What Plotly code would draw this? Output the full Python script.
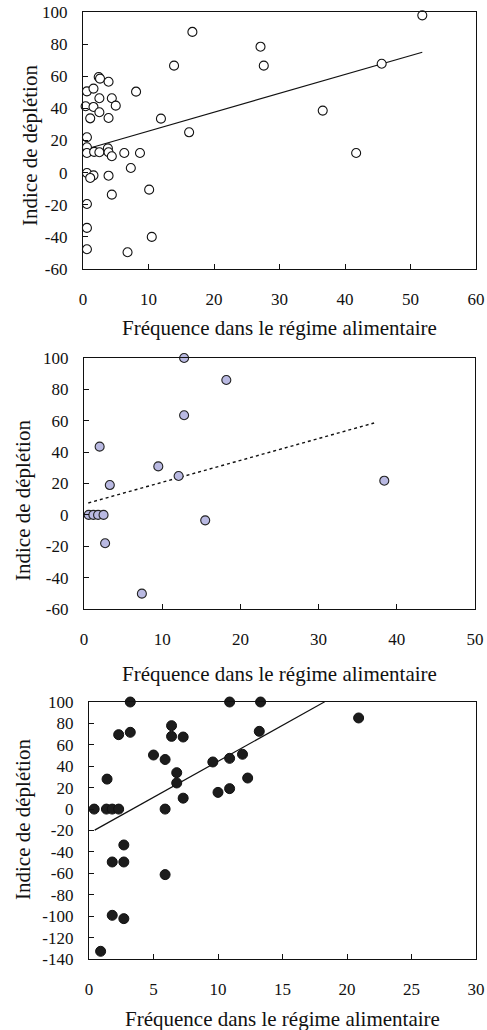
import plotly.graph_objects as go

# ---------------- data ----------------
# Panel 1 (open circles)
freq1 = [16.7, 13.9, 2.4, 2.6, 3.9, 8.1, 0.6, 1.6, 2.5, 4.4, 5.0, 0.4, 1.6, 2.5, 1.1,
         3.9, 11.9, 16.2, 0.6, 0.6, 0.6, 1.7, 2.5, 3.8, 3.9, 4.4, 6.3, 8.7, 7.3, 0.6,
         1.6, 1.1, 3.9, 4.4, 10.1, 0.6, 0.6, 10.5, 0.6, 6.8, 51.8, 27.1, 27.6, 45.6,
         36.6, 41.7]
dep1 = [87.6, 66.6, 59.5, 58.5, 56.6, 50.4, 50.6, 52.3, 46.3, 46.3, 41.7, 41.3, 40.9, 37.6, 33.8,
        34.0, 33.6, 25.1, 22.0, 15.8, 12.2, 12.9, 12.7, 15.1, 12.7, 10.2, 12.2, 12.2, 2.9, -0.2,
        -1.7, -3.3, -1.9, -13.7, -10.6, -19.5, -34.4, -40.0, -47.7, -49.6, 97.9, 78.4, 66.6, 67.8,
        38.6, 12.2]
trend1_slope, trend1_intercept, trend1_xspan = 1.175, 14.1, [0.8, 51.8]

# Panel 2 (lavender filled circles)
freq2 = [12.8, 18.2, 12.8, 2.0, 9.5, 12.1, 3.3, 0.6, 1.2, 1.8, 2.5, 15.5, 2.7, 7.4, 38.4]
dep2 = [100, 86, 63.5, 43.5, 30.9, 24.8, 19.0, 0, 0, 0, 0, -3.5, -18.1, -50.2, 21.8]
trend2_slope, trend2_intercept, trend2_xspan = 1.395, 6.83, [0.55, 37.1]

# Panel 3 (dark filled circles)
freq3 = [3.2, 10.9, 13.3, 3.2, 2.3, 6.4, 6.4, 7.3, 5.0, 5.9, 6.8, 6.8, 7.3, 5.9, 1.4,
         0.4, 1.35, 1.8, 2.3, 9.6, 10.9, 11.9, 12.3, 10.0, 10.9, 13.2, 2.7, 1.8, 2.7, 5.9,
         1.8, 2.7, 0.9, 20.9]
dep3 = [100, 100, 100, 71.7, 69.5, 77.9, 67.9, 67.3, 50.5, 46.3, 34.0, 24.4, 10.2, 0, 28,
        0, 0, 0, 0, 44.0, 47.4, 51.2, 29.0, 15.6, 19.1, 72.6, -33.5, -49.4, -49.4, -61.2,
        -99.2, -102.3, -132.8, 85.1]
trend3_slope, trend3_intercept, trend3_xspan = 6.72, -22.6, [0.44, 18.27]

# tick values
xticks1 = [0, 10, 20, 30, 40, 50, 60]
yticks1 = [-60, -40, -20, 0, 20, 40, 60, 80, 100]
xticks2 = [0, 10, 20, 30, 40, 50]
yticks2 = [-60, -40, -20, 0, 20, 40, 60, 80, 100]
xticks3 = [0, 5, 10, 15, 20, 25, 30]
yticks3 = [-140, -120, -100, -80, -60, -40, -20, 0, 20, 40, 60, 80, 100]

x_title = "Fréquence dans le régime alimentaire"
y_title = "Indice de déplétion"

# ---------------- layout helpers ----------------
W, H = 487, 1030
FONT = "Liberation Serif, Times New Roman, Times, DejaVu Serif, serif"
TICK_SIZE = 17
TITLE_SIZE = 21


def fx(p):
    return p / W


def fy(p):
    return 1 - p / H


panels = [
    dict(px=(83, 476), py=(12, 269), xr=[0, 60], yr=[-60, 100], xt=xticks1, yt=yticks1,
         xs=freq1, ys=dep1, tr=(trend1_slope, trend1_intercept, trend1_xspan),
         marker=dict(size=9, color="white", line=dict(color="#111", width=1.1)),
         dash="solid", xtitle_y=328, ytitle_y=146, ytitle_x=30),
    dict(px=(84, 475), py=(358, 609), xr=[0, 50], yr=[-60, 100], xt=xticks2, yt=yticks2,
         xs=freq2, ys=dep2, tr=(trend2_slope, trend2_intercept, trend2_xspan),
         marker=dict(size=9, color="#b9b9e2", line=dict(color="#222", width=1.1)),
         dash="dot", xtitle_y=674, ytitle_y=501, ytitle_x=23),
    dict(px=(89, 476), py=(702, 959), xr=[0, 30], yr=[-140, 100], xt=xticks3, yt=yticks3,
         xs=freq3, ys=dep3, tr=(trend3_slope, trend3_intercept, trend3_xspan),
         marker=dict(size=10, color="#1c1c1c", line=dict(color="#111", width=1)),
         dash="solid", xtitle_y=1019, ytitle_y=820, ytitle_x=23),
]

fig = go.Figure()
layout = dict(
    width=W, height=H,
    margin=dict(l=0, r=0, t=0, b=0),
    paper_bgcolor="white", plot_bgcolor="white",
    showlegend=False,
    font=dict(family=FONT, color="#111"),
    annotations=[],
)

for i, p in enumerate(panels, start=1):
    xa = "x" if i == 1 else f"x{i}"
    ya = "y" if i == 1 else f"y{i}"
    slope, icpt, span = p["tr"]
    # trend line
    fig.add_trace(go.Scatter(
        x=span, y=[slope * v + icpt for v in span], mode="lines",
        line=dict(color="#111", width=1.2 if p["dash"] == "solid" else 1.4, dash=p["dash"]),
        xaxis=xa, yaxis=ya, hoverinfo="skip"))
    # points
    fig.add_trace(go.Scatter(
        x=p["xs"], y=p["ys"], mode="markers", marker=p["marker"],
        cliponaxis=False, xaxis=xa, yaxis=ya))

    common = dict(showgrid=False, zeroline=False, showline=True, mirror=True,
                  linecolor="#111", linewidth=1.2, ticks="inside", ticklen=5,
                  tickcolor="#111", tickwidth=1, automargin=False,
                  tickfont=dict(family=FONT, size=TICK_SIZE, color="#111"))
    layout["xaxis" if i == 1 else f"xaxis{i}"] = dict(
        common, domain=[fx(p["px"][0]), fx(p["px"][1])], range=p["xr"],
        tickvals=p["xt"], ticktext=[str(v) for v in p["xt"]],
        anchor=ya, ticklabelstandoff=14)
    layout["yaxis" if i == 1 else f"yaxis{i}"] = dict(
        common, domain=[fy(p["py"][1]), fy(p["py"][0])], range=p["yr"],
        tickvals=p["yt"], ticktext=[str(v) for v in p["yt"]],
        anchor=xa, ticklabelstandoff=11)

    layout["annotations"].append(dict(
        text=x_title, xref="paper", yref="paper",
        x=fx((p["px"][0] + p["px"][1]) / 2), y=fy(p["xtitle_y"]),
        xanchor="center", yanchor="middle", showarrow=False,
        font=dict(family=FONT, size=TITLE_SIZE, color="#111")))
    layout["annotations"].append(dict(
        text=y_title, xref="paper", yref="paper",
        x=fx(p["ytitle_x"]), y=fy(p["ytitle_y"]), textangle=-90,
        xanchor="center", yanchor="middle", showarrow=False,
        font=dict(family=FONT, size=TITLE_SIZE, color="#111")))

fig.update_layout(**layout)
fig.write_html(
    "out.html",
    config={"displayModeBar": False},
    post_script="document.body.style.margin='0';document.body.style.overflow='hidden';",
)
